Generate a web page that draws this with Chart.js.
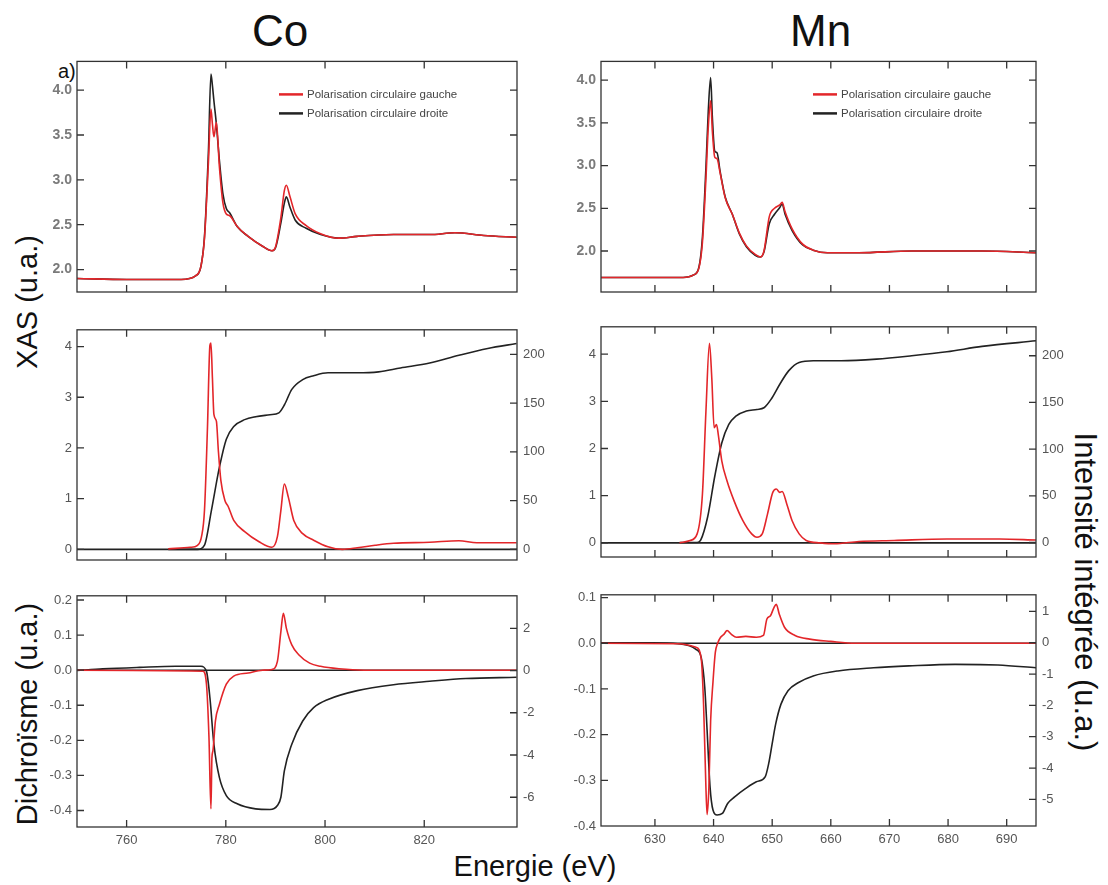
<!DOCTYPE html>
<html>
<head>
<meta charset="utf-8">
<script src="https://cdn.jsdelivr.net/npm/chart.js@4.4.1/dist/chart.umd.min.js"></script>
<style>
  body { margin: 0; background: #fff; width: 1108px; height: 885px; position: relative; overflow: hidden; font-family: "Liberation Sans", Arial, sans-serif; }
  canvas { position: absolute; }
  .lbl { position: absolute; color: #111; white-space: nowrap; }
  .title { font-family: "Liberation Sans Narrow", "Liberation Sans", Arial, sans-serif; font-size: 44px; }
  .axis { font-size: 29px; }
</style>
</head>
<body>
<div class="lbl title" style="left:252px; top:6px;">Co</div>
<div class="lbl title" style="left:790px; top:6px;">Mn</div>
<div class="lbl" style="left:58px; top:60px; font-size:20px;">a)</div>
<div class="lbl axis" style="left:27px; top:302px; transform:translate(-50%,-50%) rotate(-90deg);">XAS (u.a.)</div>
<div class="lbl axis" style="left:27px; top:714px; transform:translate(-50%,-50%) rotate(-90deg);">Dichroïsme (u.a.)</div>
<div class="lbl axis" style="left:1085px; top:592px; transform:translate(-50%,-50%) rotate(90deg); font-size:31px;">Intensité intégrée (u.a.)</div>
<div class="lbl axis" style="left:535px; top:866px; transform:translate(-50%,-50%);">Energie (eV)</div>

<canvas id="coTop"></canvas>
<canvas id="mnTop"></canvas>
<canvas id="coMid"></canvas>
<canvas id="mnMid"></canvas>
<canvas id="coBot"></canvas>
<canvas id="mnBot"></canvas>

<script>
// ---- Co, XAS (top) ----
var coTopE = [750, 760, 771, 773.9, 775, 775.7, 776.5, 777, 777.3, 777.6, 778.1, 778.7, 779.4, 780.1, 780.8, 782.3, 784.5, 787.4, 789.3, 790, 791.1, 791.8, 792.2, 792.9, 794, 796.2, 799.1, 802.8, 806.5, 813.8, 821.1, 826.2, 832, 838.6];
var coTopDroite = [1.90, 1.89, 1.89, 1.93, 2.04, 2.37, 3.33, 4.18, 4.05, 3.88, 3.62, 3.22, 2.85, 2.68, 2.63, 2.48, 2.37, 2.26, 2.21, 2.24, 2.52, 2.74, 2.81, 2.70, 2.55, 2.46, 2.39, 2.35, 2.37, 2.39, 2.39, 2.41, 2.38, 2.36];
var coTopGauche = [1.90, 1.89, 1.89, 1.93, 2.04, 2.35, 3.20, 3.79, 3.62, 3.48, 3.64, 3.15, 2.75, 2.62, 2.60, 2.48, 2.37, 2.26, 2.21, 2.25, 2.58, 2.88, 2.94, 2.82, 2.62, 2.49, 2.40, 2.35, 2.37, 2.39, 2.39, 2.41, 2.38, 2.36];

// ---- Co, XAS moyenne + integrale (middle) ----
var coMidE = [768.4, 772.8, 774.3, 775.1, 775.7, 776.3, 776.8, 777, 777.3, 777.6, 778.1, 778.5, 779, 779.8, 780.5, 781.6, 783.8, 786.7, 789.3, 790.4, 791.1, 791.8, 792.6, 793.7, 795.5, 797.7, 800.6, 803.5, 806.5, 810.1, 813.8, 821.1, 827, 830.6, 838.6];
var coMidXas = [0.01, 0.04, 0.08, 0.25, 0.77, 2.4, 4.03, 4.07, 3.38, 2.66, 2.53, 1.94, 1.36, 0.97, 0.84, 0.57, 0.35, 0.15, 0.04, 0.25, 0.77, 1.29, 1.03, 0.57, 0.31, 0.18, 0.05, 0.0, 0.03, 0.08, 0.12, 0.14, 0.17, 0.13, 0.13];
var coIntE = [768.4, 774.3, 775.7, 777.1, 778.7, 780.1, 781.6, 783.8, 786, 788.9, 790.7, 791.8, 793.3, 795.5, 797.7, 800.6, 806.5, 810.8, 815.2, 821.1, 827, 832.8, 838.6];
var coIntV = [0, 0, 4.4, 40, 84, 113, 126, 133, 136, 138, 140, 148, 164, 174, 178, 181, 181, 182, 186, 191, 199, 206, 211];

// ---- Co, XMCD + integrale (bottom) ----
var coXmcdE = [750, 775.4, 776.1, 776.6, 777, 777.2, 777.4, 777.9, 778.7, 780.1, 781.6, 784.5, 787.4, 789.3, 790.4, 791.1, 791.6, 792.2, 793.3, 794.7, 796.9, 799.1, 802.8, 807.9, 838.6];
var coXmcdV = [0, -0.003, -0.04, -0.19, -0.395, -0.25, -0.23, -0.145, -0.098, -0.04, -0.017, -0.008, 0, 0.002, 0.025, 0.11, 0.162, 0.12, 0.072, 0.044, 0.02, 0.011, 0.004, 0, 0];
var coXIntE = [750, 755.2, 762.6, 769.9, 775, 776.1, 776.8, 777.6, 778.7, 780.1, 782.3, 786, 788.9, 790.4, 791.1, 791.8, 793.3, 795.5, 797.7, 800.6, 806.5, 813.8, 821.1, 828.4, 838.6];
var coXIntV = [0, 0.08, 0.15, 0.2, 0.2, -0.04, -1.3, -3.5, -5.06, -5.92, -6.31, -6.55, -6.58, -6.39, -6.0, -4.75, -3.49, -2.39, -1.76, -1.37, -0.95, -0.67, -0.51, -0.38, -0.32];

// ---- Mn, XAS (top) ----
var mnTopE = [620.8, 630, 634.8, 636.6, 637.5, 638.1, 638.7, 639.1, 639.5, 639.8, 640.2, 640.6, 641.1, 642, 643.2, 644.4, 645.6, 647.1, 648, 648.6, 649.5, 650.4, 651.3, 651.7, 652.2, 653.4, 655.2, 657, 659.4, 664.8, 673.8, 685.8, 695];
var mnTopDroite = [1.69, 1.69, 1.69, 1.72, 1.81, 2.16, 2.98, 3.64, 4.03, 3.56, 3.17, 3.15, 2.94, 2.63, 2.43, 2.20, 2.05, 1.95, 1.93, 1.99, 2.32, 2.43, 2.51, 2.55, 2.43, 2.24, 2.07, 2.01, 1.98, 1.98, 2.00, 2.00, 1.98];
var mnTopGauche = [1.69, 1.69, 1.69, 1.72, 1.80, 2.10, 2.85, 3.45, 3.76, 3.40, 3.10, 3.08, 2.92, 2.62, 2.43, 2.21, 2.06, 1.96, 1.93, 2.00, 2.40, 2.50, 2.54, 2.57, 2.46, 2.26, 2.08, 2.01, 1.98, 1.98, 2.00, 2.00, 1.98];

// ---- Mn, XAS moyenne + integrale (middle) ----
var mnMidE = [634.2, 636, 637.2, 638.1, 638.7, 639.3, 639.7, 640.1, 640.5, 640.8, 641.4, 642.3, 643.5, 645, 646.5, 647.4, 648.3, 649.2, 650.1, 650.7, 651.3, 651.7, 652.5, 653.4, 654.6, 655.8, 658.2, 660.6, 664.8, 670.8, 679.8, 688.8, 695];
var mnMidXas = [0, 0.05, 0.19, 1.03, 2.79, 4.23, 3.49, 2.44, 2.51, 2.3, 1.74, 1.31, 0.89, 0.47, 0.19, 0.12, 0.19, 0.61, 1.07, 1.14, 1.07, 1.09, 0.82, 0.47, 0.19, 0.05, 0, -0.02, 0.03, 0.05, 0.08, 0.08, 0.06];
var mnIntE = [634.2, 637.2, 637.8, 639, 640.2, 641.4, 642.6, 643.8, 645.6, 647.4, 648.6, 649.8, 651.3, 652.8, 654.6, 657, 661.8, 667.8, 673.8, 679.8, 685.8, 695];
var mnIntV = [0, 0, 2.5, 27.6, 70.7, 106.6, 126.4, 135.4, 140.8, 142.5, 144.3, 153.3, 169.5, 183.8, 192.8, 194.6, 194.6, 196.4, 200, 204.3, 210, 216];

// ---- Mn, XMCD + integrale (bottom) ----
var mnXmcdE = [620.8, 633.9, 637, 637.9, 638.3, 638.7, 638.9, 639.2, 639.5, 639.9, 640.3, 640.7, 641.2, 641.8, 642.3, 643, 643.9, 645.5, 647.3, 648.5, 649.1, 649.7, 650.3, 650.7, 651.2, 652.1, 653.9, 656.4, 660, 664.2, 695];
var mnXmcdV = [0, -0.001, -0.009, -0.034, -0.135, -0.317, -0.375, -0.317, -0.17, -0.085, -0.02, 0, 0.013, 0.02, 0.028, 0.02, 0.013, 0.015, 0.013, 0.017, 0.053, 0.06, 0.078, 0.085, 0.064, 0.035, 0.017, 0.009, 0.004, 0, 0];
var mnXIntE = [620.8, 629.7, 633.9, 637, 637.9, 638.5, 638.9, 639.4, 639.9, 640.6, 641.5, 642.4, 643.6, 645.5, 647.3, 648.8, 649.4, 650, 650.6, 651.5, 652.7, 654.5, 657, 661.2, 667.3, 673.3, 681.2, 688.5, 695];
var mnXIntV = [0, 0, -0.03, -0.21, -0.48, -1.43, -2.8, -4.6, -5.34, -5.5, -5.45, -5.13, -4.92, -4.65, -4.44, -4.28, -3.86, -3.22, -2.59, -1.96, -1.53, -1.27, -1.06, -0.9, -0.8, -0.74, -0.69, -0.71, -0.8];

var coRange = [750, 838.7];
var mnRange = [620.8, 695];
var legendLabels = ['Polarisation circulaire gauche', 'Polarisation circulaire droite'];

var RED = '#e3262a';
var BLACK = '#222222';

function pts(xs, ys) { return xs.map(function (x, i) { return {x: x, y: ys[i]}; }); }

// frame box + inward tick marks on all four sides
var framePlugin = {
  id: 'frame',
  afterDraw: function (chart) {
    var ctx = chart.ctx, a = chart.chartArea, s = chart.scales, L = 7;
    ctx.save();
    ctx.strokeStyle = '#333';
    ctx.lineWidth = 1.3;
    ctx.strokeRect(a.left, a.top, a.right - a.left, a.bottom - a.top);
    ctx.beginPath();
    s.x.ticks.forEach(function (t) {
      var p = s.x.getPixelForValue(t.value);
      if (p < a.left + 2 || p > a.right - 2) return;
      ctx.moveTo(p, a.bottom); ctx.lineTo(p, a.bottom - L);
      ctx.moveTo(p, a.top); ctx.lineTo(p, a.top + L);
    });
    s.y.ticks.forEach(function (t) {
      var p = s.y.getPixelForValue(t.value);
      if (p < a.top + 2 || p > a.bottom - 2) return;
      ctx.moveTo(a.left, p); ctx.lineTo(a.left + L, p);
    });
    s.y2.ticks.forEach(function (t) {
      var p = s.y2.getPixelForValue(t.value);
      if (p < a.top + 2 || p > a.bottom - 2) return;
      ctx.moveTo(a.right, p); ctx.lineTo(a.right - L, p);
    });
    ctx.stroke();
    // small legend for the polarisation panels
    var lg = chart.options.plugins.miniLegend;
    if (lg && lg.show) {
      ctx.font = '11.5px "Liberation Sans", Arial, sans-serif';
      ctx.textBaseline = 'middle';
      chart.data.datasets.forEach(function (ds, i) {
        var y = a.top + lg.y + i * 19;
        var x = a.left + lg.x;
        ctx.strokeStyle = ds.borderColor;
        ctx.lineWidth = 2.5;
        ctx.beginPath(); ctx.moveTo(x, y); ctx.lineTo(x + 24, y); ctx.stroke();
        ctx.fillStyle = '#444';
        ctx.fillText(ds.label, x + 28, y);
      });
    }
    ctx.restore();
  }
};

function fixW(w) { return function (sc) { sc.width = w; }; }
function fixH(h) { return function (sc) { sc.height = h; }; }

function panel(id, box, xr, datasets, ax) {
  var L = 52, R = 52, T = 12, B = 30;
  var cv = document.getElementById(id);
  var w = box.right - box.left, h = box.bottom - box.top;
  cv.width = w + L + R; cv.height = h + T + B;
  cv.style.left = (box.left - L) + 'px';
  cv.style.top = (box.top - T) + 'px';
  var tickFont = ax.bold ? {family: '"Liberation Sans", Arial', size: 14, weight: 'bold'} : {family: '"Liberation Sans", Arial', size: 13};
  var tickColor = ax.bold ? '#7a7a7a' : '#555';
  return new Chart(cv, {
    type: 'line',
    data: {datasets: datasets},
    options: {
      responsive: false,
      animation: false,
      layout: {padding: {top: T, left: 0, right: 0, bottom: 0}},
      elements: {point: {radius: 0}, line: {borderWidth: 1.6, cubicInterpolationMode: 'monotone'}},
      plugins: {legend: {display: false}, tooltip: {enabled: false}, miniLegend: ax.legend || {show: false}},
      scales: {
        x: {
          type: 'linear', min: xr[0], max: xr[1],
          grid: {display: false, drawTicks: false}, border: {display: false},
          ticks: {display: ax.xLabels, stepSize: ax.xStep, padding: 6, color: '#555', font: {family: '"Liberation Sans", Arial', size: 13}, maxRotation: 0, includeBounds: false},
          afterFit: fixH(B)
        },
        y: {
          position: 'left', min: ax.y[0], max: ax.y[1],
          grid: {display: false, drawTicks: false}, border: {display: false},
          ticks: {stepSize: ax.y[2], padding: 5, color: tickColor, font: tickFont, includeBounds: false,
                  callback: function (v) { return ax.yDec ? v.toFixed(ax.yDec) : String(Math.round(v * 1000) / 1000); }},
          afterFit: fixW(L)
        },
        y2: {
          position: 'right', min: ax.y2[0], max: ax.y2[1],
          grid: {display: false, drawTicks: false}, border: {display: false},
          ticks: {display: ax.y2Labels, stepSize: ax.y2[2], padding: 6, color: '#555', font: {family: '"Liberation Sans", Arial', size: 13}, includeBounds: false},
          afterFit: fixW(R)
        }
      }
    },
    plugins: [framePlugin]
  });
}

function line(label, xs, ys, color, axis) {
  return {label: label, data: pts(xs, ys), borderColor: color, backgroundColor: color, yAxisID: axis || 'y', fill: false};
}

var boxes = {
  coTop: {left: 77, right: 517, top: 60, bottom: 292},
  mnTop: {left: 601, right: 1036, top: 60, bottom: 292},
  coMid: {left: 77, right: 517, top: 328, bottom: 560},
  mnMid: {left: 601, right: 1036, top: 325, bottom: 557},
  coBot: {left: 77, right: 517, top: 594, bottom: 827},
  mnBot: {left: 601, right: 1036, top: 593, bottom: 826}
};

panel('coTop', boxes.coTop, coRange, [
  line(legendLabels[0], coTopE, coTopGauche, RED),
  line(legendLabels[1], coTopE, coTopDroite, BLACK)
], {xLabels: false, xStep: 20, y: [1.75, 4.32, 0.5], yDec: 1, y2: [1.75, 4.32, 0.5], y2Labels: false, bold: true,
    legend: {show: true, x: 202, y: 33}});

panel('mnTop', boxes.mnTop, mnRange, [
  line(legendLabels[0], mnTopE, mnTopGauche, RED),
  line(legendLabels[1], mnTopE, mnTopDroite, BLACK)
], {xLabels: false, xStep: 10, y: [1.52, 4.22, 0.5], yDec: 1, y2: [1.52, 4.22, 0.5], y2Labels: false, bold: true,
    legend: {show: true, x: 212, y: 33}});

panel('coMid', boxes.coMid, coRange, [
  line('XAS', coMidE, coMidXas, RED),
  line('zero', coRange, [0, 0], BLACK),
  line('integrale', coIntE, coIntV, BLACK, 'y2')
], {xLabels: false, xStep: 20, y: [-0.21, 4.33, 1], y2: [-10.9, 225.1, 50], y2Labels: true});

panel('mnMid', boxes.mnMid, mnRange, [
  line('XAS', mnMidE, mnMidXas, RED),
  line('zero', mnRange, [0, 0], BLACK),
  line('integrale', mnIntE, mnIntV, BLACK, 'y2')
], {xLabels: false, xStep: 10, y: [-0.30, 4.58, 1], y2: [-15.5, 231, 50], y2Labels: true});

panel('coBot', boxes.coBot, coRange, [
  line('XMCD', coXmcdE, coXmcdV, RED),
  line('zero', coRange, [0, 0], BLACK),
  line('integrale', coXIntE, coXIntV, BLACK, 'y2')
], {xLabels: true, xStep: 20, y: [-0.447, 0.212, 0.1], yDec: 1, y2: [-7.41, 3.54, 2], y2Labels: true});

panel('mnBot', boxes.mnBot, mnRange, [
  line('XMCD', mnXmcdE, mnXmcdV, RED),
  line('zero', mnRange, [0, 0], BLACK),
  line('integrale', mnXIntE, mnXIntV, BLACK, 'y2')
], {xLabels: true, xStep: 10, y: [-0.40, 0.106, 0.1], yDec: 1, y2: [-5.85, 1.53, 1], y2Labels: true});
</script>
</body>
</html>
